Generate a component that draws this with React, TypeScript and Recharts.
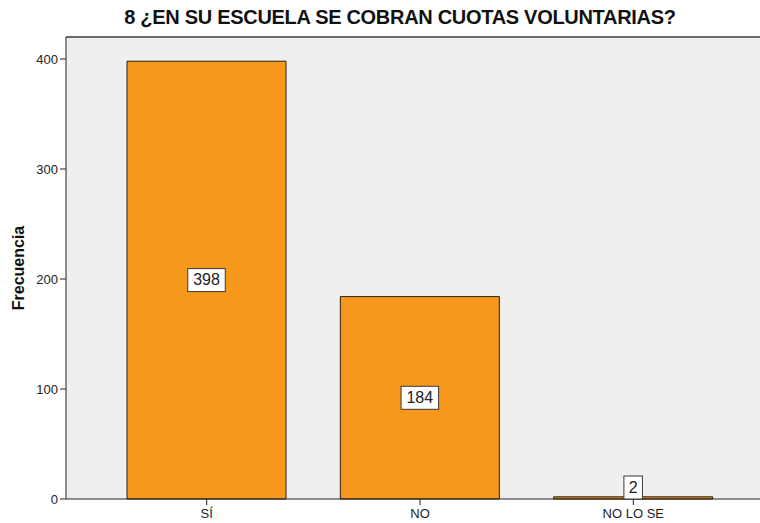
import React from "react";
import {
  BarChart,
  Bar,
  XAxis,
  YAxis,
  CartesianGrid,
  LabelList,
} from "recharts";

const categories = ["SÍ", "NO", "NO LO SE"];
const frecuencias = [398, 184, 2];
const yTicks = [0, 100, 200, 300, 400];
const yMax = 420;

const chartData = categories.map((cat, i) => ({
  cat,
  frecuencia: frecuencias[i],
}));

const FONT = "'Liberation Sans', Arial, sans-serif";

// etiqueta en caja blanca, centrada en la barra pero sin bajar del eje
const BoxLabel = (props: any) => {
  const { x, y, width, height, value } = props;
  const w = String(value).length * 9.5 + 9;
  const h = 23;
  const base = y + height;
  let cy = y + height / 2;
  if (cy > base - h / 2) cy = base - h / 2;
  const cx = x + width / 2;
  return (
    <g>
      <rect
        x={cx - w / 2}
        y={cy - h / 2}
        width={w}
        height={h}
        fill="#ffffff"
        stroke="#3a3a3a"
        strokeWidth={1}
      />
      <text
        x={cx}
        y={cy + 1}
        textAnchor="middle"
        dominantBaseline="middle"
        fontSize={16}
        fontFamily={FONT}
        fill="#222"
      >
        {value}
      </text>
    </g>
  );
};

const App: React.FC = () => {
  return (
    <div
      style={{
        position: "absolute",
        left: 0,
        top: 0,
        width: 760,
        height: 523,
        overflow: "hidden",
        background: "#fff",
      }}
    >
      <style>{"html,body{margin:0;padding:0;overflow:hidden;}"}</style>
      <div
        style={{
          position: "absolute",
          top: 6,
          left: 0,
          width: 800,
          textAlign: "center",
          fontFamily: FONT,
          fontWeight: "bold",
          fontSize: 20,
          letterSpacing: -0.3,
          color: "#111",
        }}
      >
        8 ¿EN SU ESCUELA SE COBRAN CUOTAS VOLUNTARIAS?
      </div>
      <BarChart
        width={780}
        height={523}
        data={chartData}
        margin={{ top: 37, right: 0, left: 0, bottom: 0 }}
        barSize={159}
      >
        <CartesianGrid
          fill="#efefef"
          vertical={false}
          horizontalValues={[yMax]}
          stroke="#6a6a6a"
          strokeWidth={2}
        />
        <XAxis
          dataKey="cat"
          height={24}
          padding={{ left: 34, right: 40 }}
          stroke="#222"
          tickLine={{ stroke: "#222" }}
          tickSize={6}
          tickMargin={4}
          tick={{ fontSize: 13, fontFamily: FONT, fill: "#222" }}
        />
        <YAxis
          width={66}
          domain={[0, yMax]}
          ticks={yTicks}
          stroke="#222"
          tickSize={6}
          tick={{ fontSize: 13, fontFamily: FONT, fill: "#222" }}
          label={{
            value: "Frecuencia",
            angle: -90,
            position: "insideLeft",
            offset: 18,
            style: {
              fontFamily: FONT,
              fontWeight: "bold",
              fontSize: 16,
              fill: "#111",
              textAnchor: "middle",
            },
          }}
        />
        <Bar
          dataKey="frecuencia"
          fill="#f7981d"
          stroke="#2a1e0e"
          strokeWidth={1}
          isAnimationActive={false}
        >
          <LabelList dataKey="frecuencia" content={BoxLabel} />
        </Bar>
      </BarChart>
    </div>
  );
};

export default App;
